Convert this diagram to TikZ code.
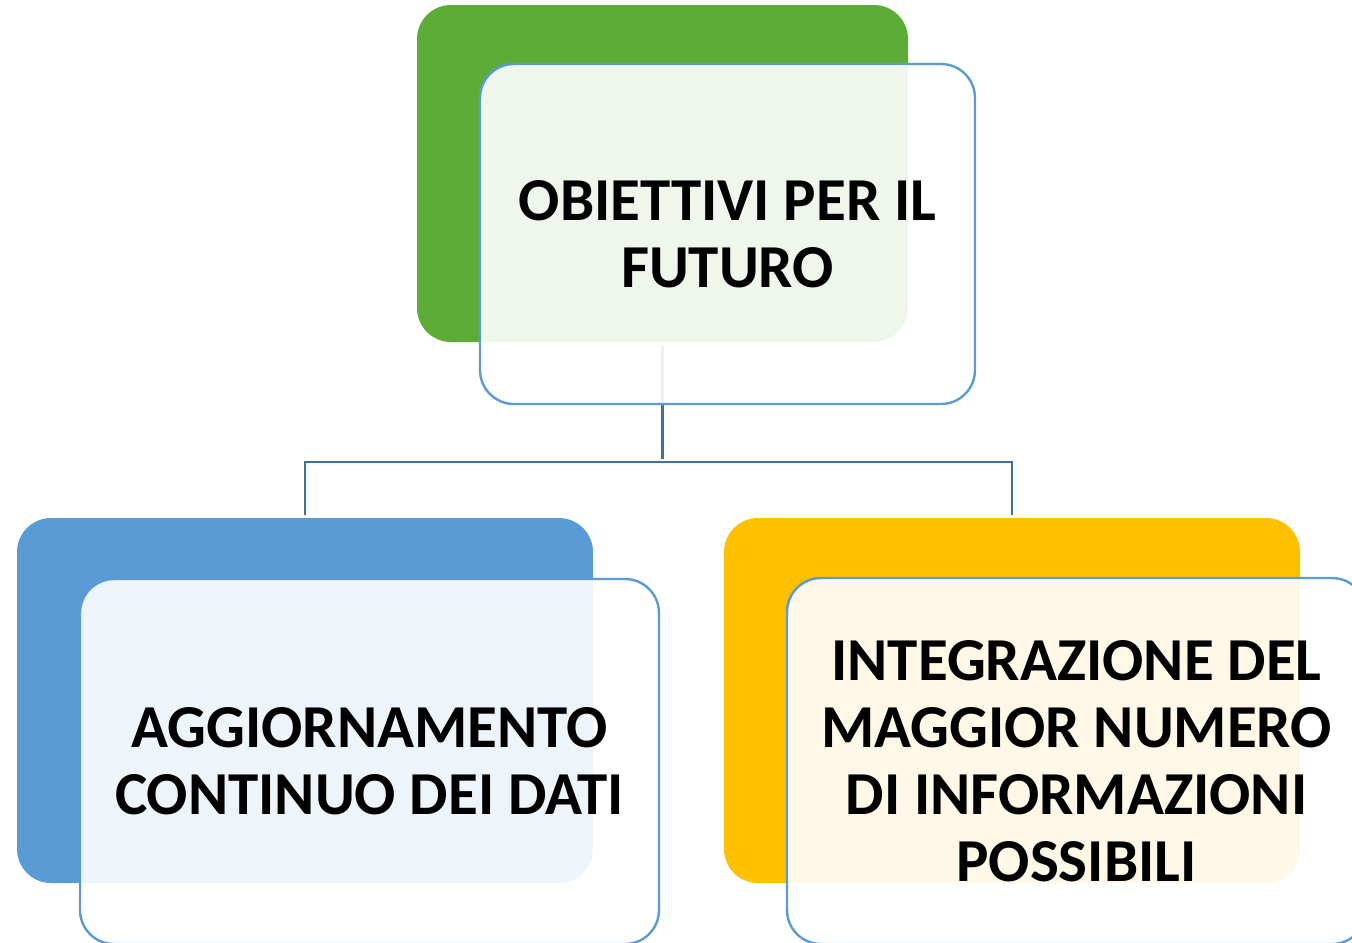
\documentclass[tikz,border=0pt]{standalone}
\usepackage{fontspec}
\setmainfont{Carlito}
\usetikzlibrary{positioning}
\definecolor{leafgreen}{RGB}{94,172,56}
\definecolor{skyblue}{RGB}{91,155,213}
\definecolor{gold}{RGB}{255,192,0}
\definecolor{linkblue}{RGB}{65,113,156}
\tikzset{
  back/.style={rectangle, rounded corners=17pt, inner sep=0pt},
  front/.style={rectangle, rounded corners=17pt, inner sep=0pt, draw=skyblue, line width=1.2pt,
    fill=white, fill opacity=0.9, text opacity=1, align=center,
    font=\bfseries\fontsize{30.5}{33.5}\selectfont},
  link/.style={draw=linkblue, line width=1.3pt, shorten <=1.5pt, shorten >=1.5pt}
}
\begin{document}
\begin{tikzpicture}[x=0.5pt, y=-0.5pt]
\useasboundingbox (0,0) rectangle (1352,942);
\clip (0,0) rectangle (1352,942);
% coloured boxes behind
\node (goalback) [back, fill=leafgreen, minimum width=245.5pt, minimum height=168.5pt] at (662.5,173.5) {};
\node (databack) [back, fill=skyblue, minimum width=288pt, minimum height=182.5pt] at (305,700.5) {};
\node (infoback) [back, fill=gold, minimum width=288pt, minimum height=182.5pt] at (1012,700.5) {};
% tree lines
\coordinate (fork) at (662.5,462);
\draw [link] (goalback.south) -- (fork);
\draw [link] (databack.north) |- (fork) -| (infoback.north);
% text boxes on top
\node (goal) [front, minimum width=247.5pt, minimum height=170pt] at (727.5,234) {OBIETTIVI PER IL\\FUTURO};
\node (data) [front, minimum width=289.5pt, minimum height=182.5pt] at (369.5,761.5) {AGGIORNAMENTO\\CONTINUO DEI DATI};
\node (info) [front, minimum width=289.5pt, minimum height=183pt] at (1076.5,761) {INTEGRAZIONE DEL\\MAGGIOR NUMERO\\DI INFORMAZIONI\\POSSIBILI};
\end{tikzpicture}
\end{document}
